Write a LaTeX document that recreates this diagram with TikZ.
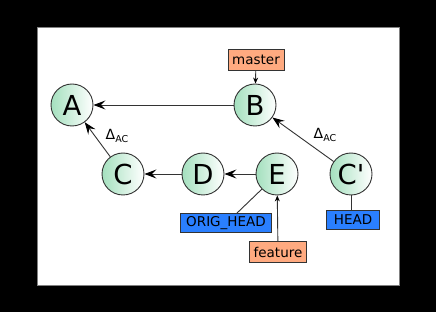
\documentclass[tikz,border=0pt]{standalone}
\usepackage{fontspec}
\setmainfont{DejaVu Sans}
\newfontfamily\labelfont{DejaVu Sans}
\usetikzlibrary{arrows.meta}
\definecolor{edge}{HTML}{333333}
\definecolor{commitgreen}{RGB}{164,224,190}
\definecolor{branchorange}{HTML}{FFAA80}
\definecolor{refblue}{HTML}{2A7FFF}
\tikzset{
  commit/.style={circle, draw=edge, line width=0.9pt, minimum size=42pt, inner sep=0pt,
    left color=commitgreen, right color=white, font=\labelfont\fontsize{27.5}{28}\selectfont},
  branch/.style={draw=edge, line width=0.9pt, fill=branchorange, inner sep=0pt,
    minimum height=21pt, font=\fontsize{13.5}{14}\selectfont},
  ref/.style={draw=edge, line width=0.9pt, fill=refblue, inner sep=0pt,
    minimum height=19pt, font=\fontsize{13.5}{14}\selectfont},
  parent/.style={draw=edge, line width=0.9pt,
    -{Stealth[length=12pt,width=9pt,inset=4.5pt,color=black]}},
  pointer/.style={draw=edge, line width=0.9pt,
    -{Stealth[length=6pt,width=5pt,inset=2pt,color=black]}},
  link/.style={draw=edge, line width=0.9pt},
  delta/.style={font=\fontsize{14}{14}\selectfont, inner sep=0pt}
}
\newcommand{\deltaAC}{Δ\raisebox{-3.5pt}{\fontsize{9.5}{10}\selectfont AC}}
\begin{document}
\begin{tikzpicture}[x=1pt,y=-1pt]
  % frame
  \fill[black] (0,0) rectangle (436,312);
  \filldraw[fill=white, draw=gray, line width=0.8pt] (37,27) rectangle (399,285);
  \useasboundingbox (0,0) rectangle (436,312);

  % commits
  \node[commit] (A)  at (72,105)  {A};
  \node[commit] (B)  at (255,105) {B};
  \node[commit] (C)  at (123,174) {C};
  \node[commit] (D)  at (203,174) {D};
  \node[commit] (E)  at (277,174) {E};
  \node[commit] (Cp) at (351,174) {C'};

  % refs
  \node[branch, minimum width=56pt] (master)  at (256,60)  {master};
  \node[ref,    minimum width=91pt] (orig)    at (226,223) {ORIG\_HEAD};
  \node[ref,    minimum width=53pt] (head)    at (353,220) {HEAD};
  \node[branch, minimum width=57pt] (feature) at (278,252) {feature};

  % history
  \draw[parent] (B) -- (A);
  \draw[parent] (C) -- (A);
  \draw[parent] (D) -- (C);
  \draw[parent] (E) -- (D);
  \draw[parent] (Cp) -- (B);

  % ref pointers
  \draw[pointer] (master) -- (B);
  \draw[pointer] (feature) -- (E);
  \draw[link] (E.225) -- ([xshift=11pt]orig.north);
  \draw[link] (Cp.south) -- (head.north -| Cp.south);

  % deltas
  \node[delta] (d1) at (117,136) {\deltaAC};
  \node[delta] (d2) at (325,135) {\deltaAC};
\end{tikzpicture}
\end{document}
